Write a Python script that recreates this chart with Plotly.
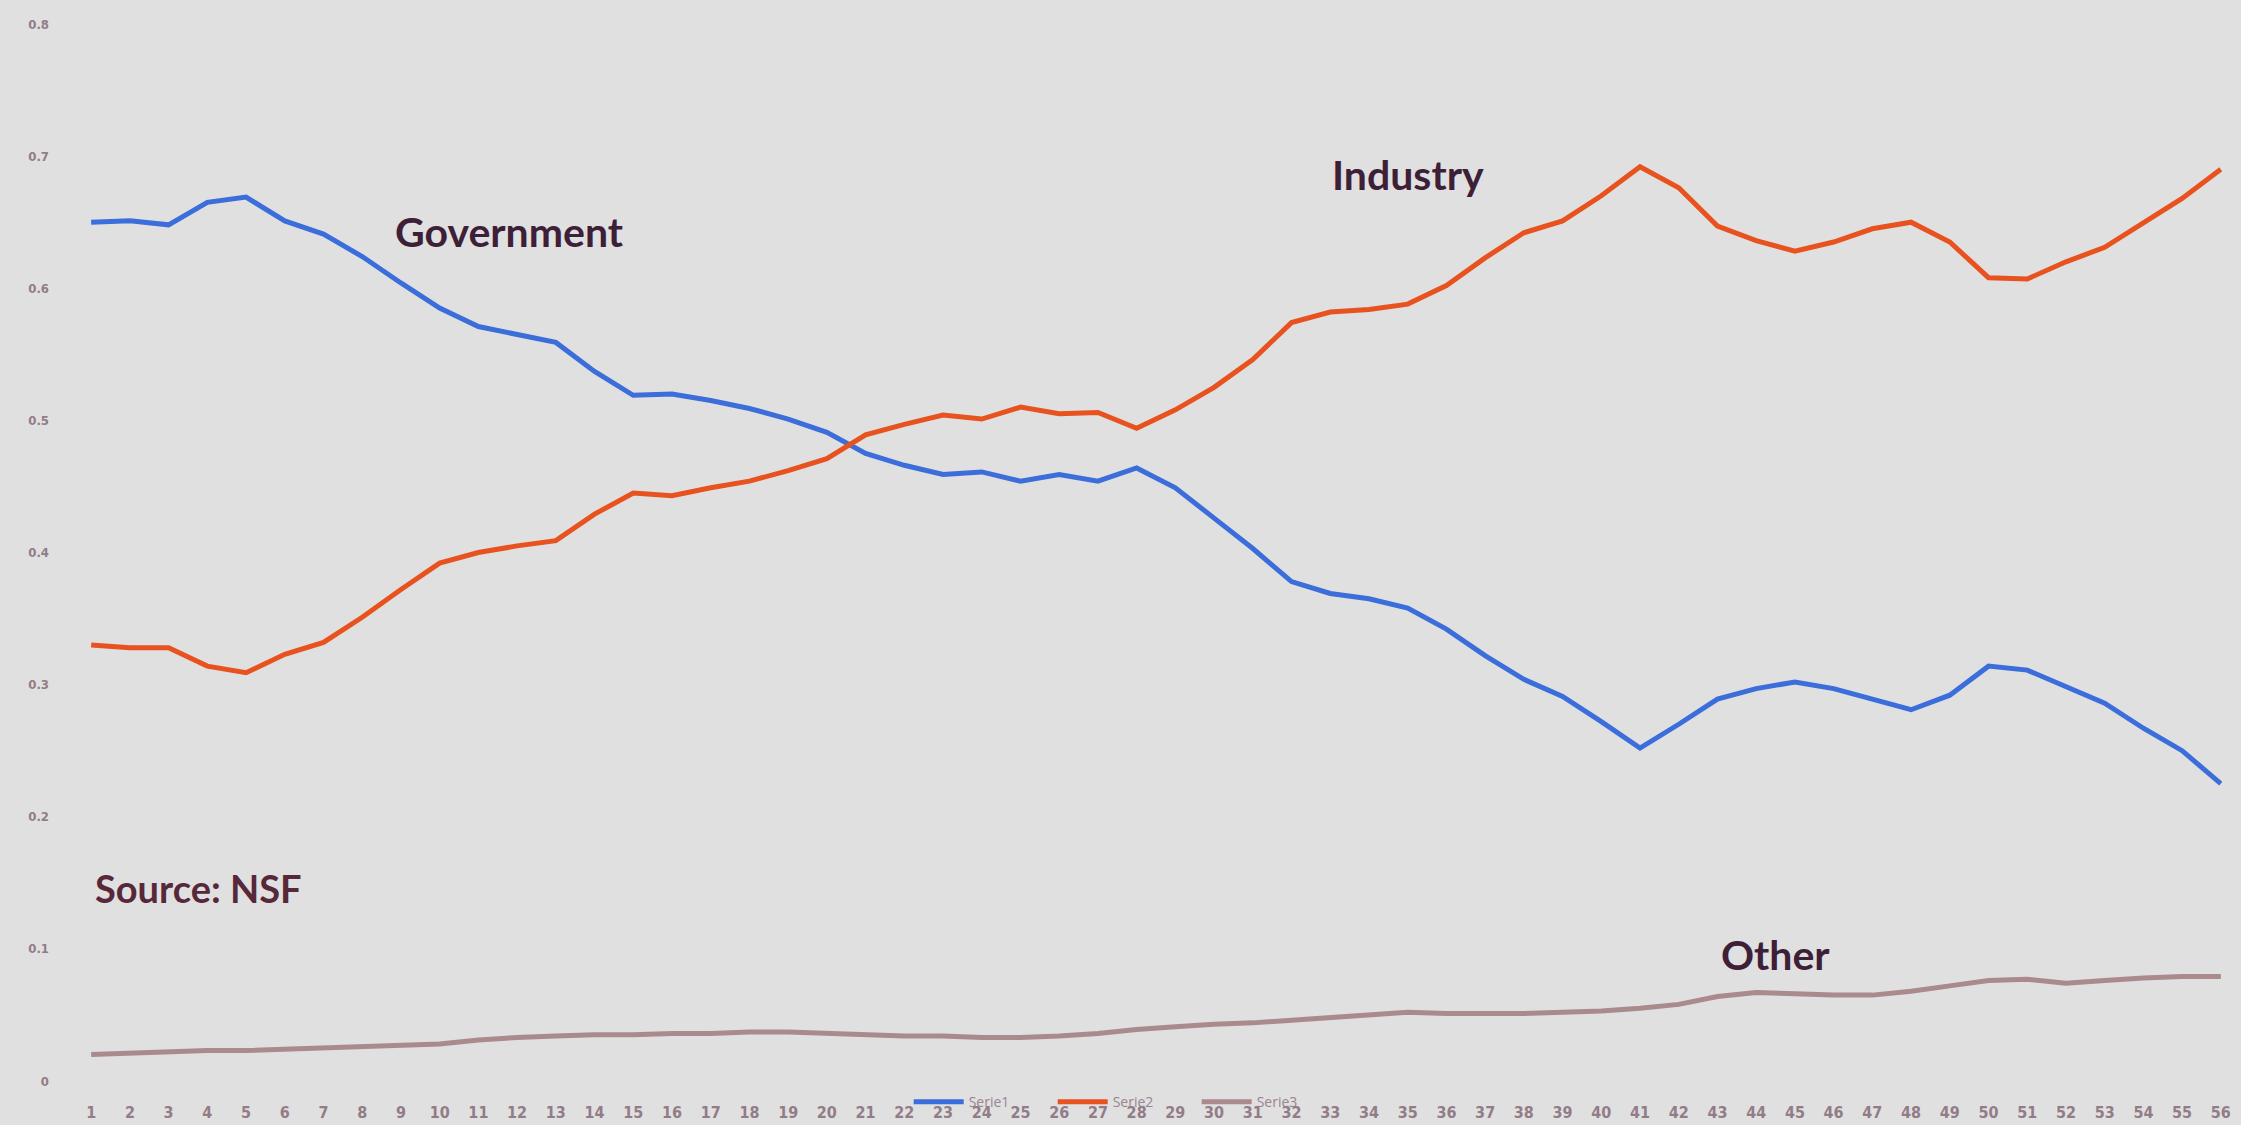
import plotly.graph_objects as go

# x categories (years index 1..56)
periods = list(range(1, 57))

government = [0.650, 0.651, 0.648, 0.665, 0.669, 0.651, 0.641, 0.624, 0.604, 0.585,
              0.571, 0.565, 0.559, 0.537, 0.519, 0.520, 0.515, 0.509, 0.501, 0.491,
              0.475, 0.466, 0.459, 0.461, 0.454, 0.459, 0.454, 0.464, 0.449, 0.426,
              0.403, 0.378, 0.369, 0.365, 0.358, 0.342, 0.322, 0.304, 0.291, 0.272,
              0.252, 0.270, 0.289, 0.297, 0.302, 0.297, 0.289, 0.281, 0.292, 0.314,
              0.311, 0.299, 0.286, 0.267, 0.250, 0.225]

industry = [0.330, 0.328, 0.328, 0.314, 0.309, 0.323, 0.332, 0.351, 0.372, 0.392,
            0.400, 0.405, 0.409, 0.429, 0.445, 0.443, 0.449, 0.454, 0.462, 0.471,
            0.489, 0.497, 0.504, 0.501, 0.510, 0.505, 0.506, 0.494, 0.508, 0.525,
            0.546, 0.574, 0.582, 0.584, 0.588, 0.602, 0.623, 0.642, 0.651, 0.670,
            0.692, 0.676, 0.647, 0.636, 0.628, 0.635, 0.645, 0.650, 0.635, 0.608,
            0.607, 0.620, 0.631, 0.650, 0.668, 0.690]

other = [0.020, 0.021, 0.022, 0.023, 0.023, 0.024, 0.025, 0.026, 0.027, 0.028,
         0.031, 0.033, 0.034, 0.035, 0.035, 0.036, 0.036, 0.037, 0.037, 0.036,
         0.035, 0.034, 0.034, 0.033, 0.033, 0.034, 0.036, 0.039, 0.041, 0.043,
         0.044, 0.046, 0.048, 0.050, 0.052, 0.051, 0.051, 0.051, 0.052, 0.053,
         0.055, 0.058, 0.064, 0.067, 0.066, 0.065, 0.065, 0.068, 0.072, 0.076,
         0.077, 0.074, 0.076, 0.078, 0.079, 0.079]

series_names = ["Serie1", "Serie2", "Serie3"]
y_ticks = [0, 0.1, 0.2, 0.3, 0.4, 0.5, 0.6, 0.7, 0.8]
y_tick_labels = ["0", "0.1", "0.2", "0.3", "0.4", "0.5", "0.6", "0.7", "0.8"]

colors = ["#3b6ddb", "#e8521f", "#ab8a8d"]

fig = go.Figure()
for name, vals, col in zip(series_names, [government, industry, other], colors):
    fig.add_trace(go.Scatter(x=periods, y=vals, mode="lines", name=name,
                             line=dict(color=col, width=5)))

label_font = dict(family="Lato, 'Open Sans', sans-serif", size=41, color="#3d1f38",
                  weight="bold")
fig.add_annotation(x=11.8, y=0.643, text="Government", showarrow=False, font=label_font)
fig.add_annotation(x=35.0, y=0.686, text="Industry", showarrow=False, font=label_font)
fig.add_annotation(x=44.5, y=0.096, text="Other", showarrow=False, font=label_font)
fig.add_annotation(x=1.05, y=0.146, text="Source: NSF", showarrow=False, xanchor="left",
                   font=dict(family="Lato, 'Open Sans', sans-serif", size=38,
                             color="#56283a", weight="bold"))

fig.update_layout(
    width=2241, height=1125,
    paper_bgcolor="#e0e0e0", plot_bgcolor="#e0e0e0",
    margin=dict(l=90, r=19, t=24, b=44, autoexpand=False),
    showlegend=True,
    legend=dict(orientation="h", x=0.384, xanchor="left", y=-0.020, yanchor="middle",
                bgcolor="rgba(0,0,0,0)", font=dict(size=14, color="#9a8490"),
                itemwidth=50, entrywidth=79, entrywidthmode="pixels"),
    xaxis=dict(range=[0.97, 56.03], tickmode="array", tickvals=periods,
               ticktext=[str(p) for p in periods], showgrid=False, zeroline=False,
               showline=False, ticks="", ticklabelstandoff=20,
               tickfont=dict(family="Liberation Sans Narrow, DejaVu Sans Condensed, sans-serif",
                             size=16, color="#927c88", weight="bold")),
    yaxis=dict(range=[0, 0.8], tickmode="array", tickvals=y_ticks, ticktext=y_tick_labels,
               showgrid=False, zeroline=False, showline=False, ticks="",
               ticklabelstandoff=40,
               tickfont=dict(family="DejaVu Sans Condensed, sans-serif", size=13,
                             color="#927c88", weight="bold")),
)

fig.write_html("out.html", config={"displayModeBar": False},
               post_script="document.body.style.margin='0px';document.body.style.overflow='hidden';")
